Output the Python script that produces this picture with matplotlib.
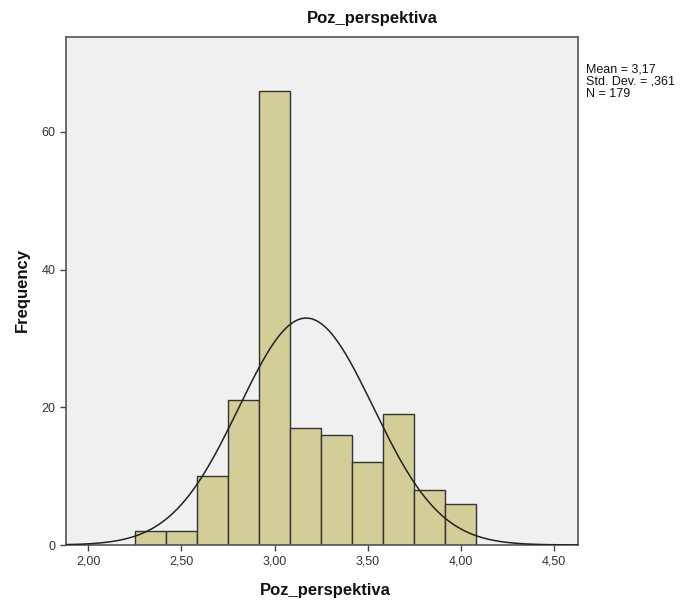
import numpy as np
import matplotlib.pyplot as plt

# ============================================================
# Data
# ============================================================
counts = [2, 2, 10, 21, 66, 17, 16, 12, 19, 8, 6]
bin_start = 2.25
bin_width = 1.0 / 6.0
mean = 3.17
std = 0.361
n = 179
x_ticks = [2.0, 2.5, 3.0, 3.5, 4.0, 4.5]
x_tick_labels = ["2,00", "2,50", "3,00", "3,50", "4,00", "4,50"]
y_ticks = [0, 20, 40, 60]

edges = bin_start + bin_width * np.arange(len(counts) + 1)

plt.rcParams['font.family'] = ['Liberation Sans', 'DejaVu Sans']

fig = plt.figure(figsize=(6.85, 6.05), dpi=100)
ax = fig.add_axes([66 / 685, 1 - 545 / 605, (578 - 66) / 685, (545 - 37) / 605])
ax.set_facecolor('#F0F0F0')

ax.bar(edges[:-1], counts, width=bin_width, align='edge',
       color='#D3CE97', edgecolor='#333333', linewidth=1.0, zorder=2)

# normal curve scaled to counts
xs = np.linspace(1.88, 4.63, 400)
ys = n * bin_width / (std * np.sqrt(2 * np.pi)) * np.exp(-0.5 * ((xs - mean) / std) ** 2)
ax.plot(xs, ys, color='#222222', linewidth=1.1, zorder=3)

ax.set_xlim(1.88, 4.63)
ax.set_ylim(0, 73.8)
ax.set_xticks(x_ticks)
ax.set_xticklabels(x_tick_labels)
ax.set_yticks(y_ticks)
ax.tick_params(direction='out', length=4, width=1, colors='#444444',
               labelsize=9, labelcolor='#333333')
for s in ax.spines.values():
    s.set_color('#555555')
    s.set_linewidth(1.2)

fig.text(372 / 685, 1 - 18 / 605, "Poz_perspektiva", ha='center', va='center',
         fontsize=12, fontweight='bold', color='#111111')
fig.text(325 / 685, 1 - 590 / 605, "Poz_perspektiva", ha='center', va='center',
         fontsize=12, fontweight='bold', color='#111111')
fig.text(22 / 685, 1 - 290 / 605, "Frequency", ha='center', va='center',
         rotation=90, fontsize=12, fontweight='bold', color='#111111')
fig.text(586 / 685, 1 - 63 / 605,
         "Mean = 3,17\nStd. Dev. = ,361\nN = 179",
         ha='left', va='top', fontsize=9, color='#111111', linespacing=1.05)

plt.savefig("out.png", dpi=100)
